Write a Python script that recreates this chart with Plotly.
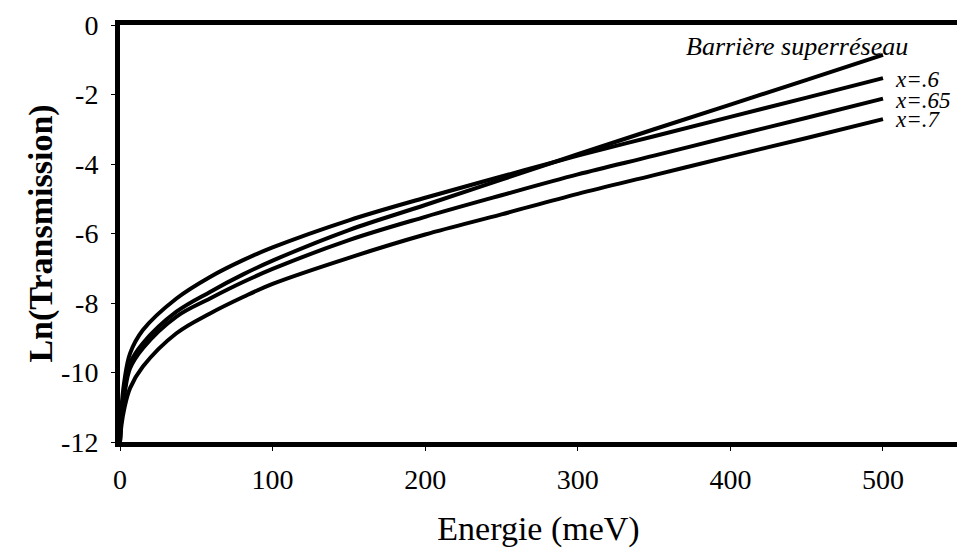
import plotly.graph_objects as go

# Energy (meV)
energy = [0, 1, 3, 6.6, 15, 37, 59, 81, 100, 150, 200, 250, 300, 350, 400, 450, 500]

# Ln(Transmission) per curve
barriere_sr = [-12, -11.2, -10.5, -9.74, -9.16, -8.25, -7.68, -7.17, -6.78, -5.90, -5.18, -4.45, -3.72, -3.00, -2.29, -1.58, -0.86]
x_060 = [-12, -11.0, -10.2, -9.45, -8.78, -7.87, -7.25, -6.76, -6.40, -5.62, -4.97, -4.36, -3.76, -3.20, -2.645, -2.09, -1.53]
x_065 = [-12, -11.3, -10.6, -9.88, -9.30, -8.39, -7.87, -7.39, -7.02, -6.19, -5.52, -4.90, -4.30, -3.76, -3.21, -2.67, -2.12]
x_070 = [-12, -11.5, -11.0, -10.45, -9.83, -8.87, -8.30, -7.82, -7.45, -6.70, -6.03, -5.45, -4.86, -4.32, -3.78, -3.25, -2.71]

series = [
    ("Barrière superréseau", barriere_sr),
    ("x=.6", x_060),
    ("x=.65", x_065),
    ("x=.7", x_070),
]

label_text = ["<i>Barrière superréseau</i>", "<i>x=.6</i>", "<i>x=.65</i>", "<i>x=.7</i>"]
label_x = [518, 506.5, 506.5, 506.5]
label_y = [-0.63, -1.58, -2.16, -2.73]
label_anchor = ["right", "left", "left", "left"]
label_size = [26, 23, 23, 23]

x_ticks = [0, 100, 200, 300, 400, 500]
y_ticks = [0, -2, -4, -6, -8, -10, -12]

serif = "Liberation Serif"

fig = go.Figure()
for name, vals in series:
    fig.add_trace(go.Scatter(
        x=energy, y=vals, mode="lines", name=name,
        line=dict(color="black", width=4, shape="spline", smoothing=1.0),
        showlegend=False,
    ))

for t, xx, yy, anc, sz in zip(label_text, label_x, label_y, label_anchor, label_size):
    fig.add_annotation(x=xx, y=yy, xref="x", yref="y", text=t, showarrow=False,
                       xanchor=anc, yanchor="middle",
                       font=dict(family=serif, size=sz, color="black"))

fig.update_layout(
    width=957, height=552,
    margin=dict(l=120, r=0, t=25, b=110),
    paper_bgcolor="white", plot_bgcolor="white",
    font=dict(family=serif, color="black"),
)
fig.update_xaxes(
    range=[0, 548.5], tickvals=x_ticks, ticktext=[str(v) for v in x_ticks],
    showgrid=False, zeroline=False,
    showline=True, linecolor="black", linewidth=5, mirror=True,
    ticks="outside", ticklen=4, tickwidth=1, tickcolor="black",
    ticklabelstandoff=4,
    tickfont=dict(family=serif, size=28, color="black"),
    title=dict(text="Energie (meV)", font=dict(family=serif, size=34, color="black"), standoff=24),
)
fig.update_yaxes(
    range=[-12, 0], tickvals=y_ticks, ticktext=[str(v) for v in y_ticks],
    showgrid=False, zeroline=False,
    showline=True, linecolor="black", linewidth=5,
    ticks="outside", ticklen=4, tickwidth=1, tickcolor="black",
    ticklabelstandoff=7,
    tickfont=dict(family=serif, size=28, color="black"),
    title=dict(text="<b>Ln(Transmission)</b>", font=dict(family=serif, size=34, color="black"), standoff=0),
)

fig.write_html("out.html")
